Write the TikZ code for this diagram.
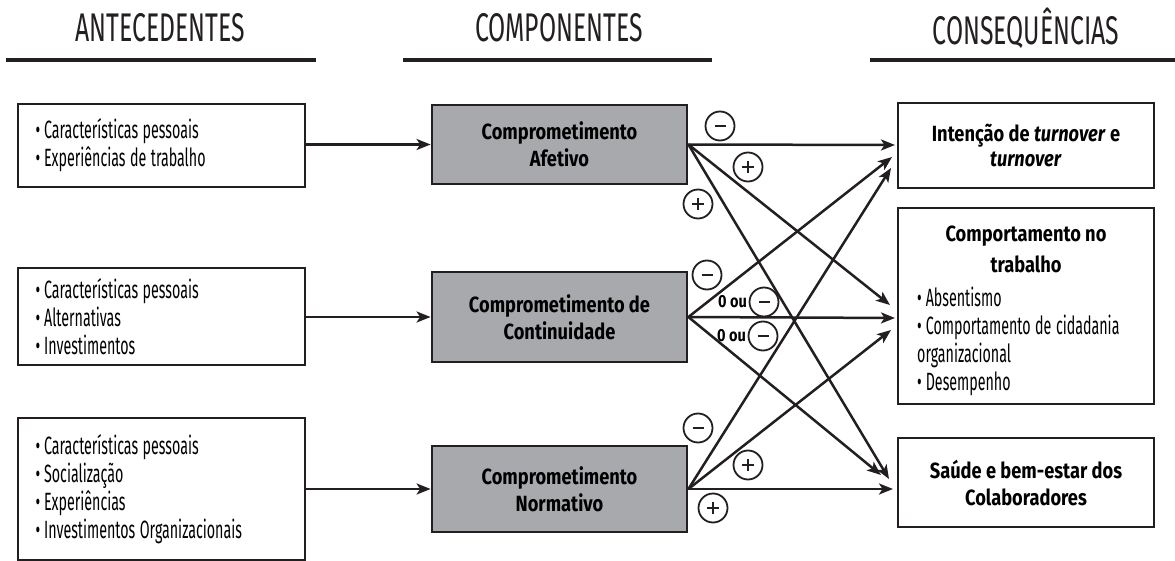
\documentclass[tikz,border=0pt]{standalone}
\usepackage{fontspec}
\setmainfont[FakeStretch=0.57]{Fira Sans}
\newfontfamily\bfont[FakeStretch=0.83]{Fira Sans}
\newfontfamily\headfont[FakeStretch=0.62]{Fira Sans}
\usetikzlibrary{arrows.meta,calc}
\definecolor{boxgray}{HTML}{A7A9AC}
\definecolor{ink}{HTML}{231F20}
\newcommand{\ws}{\hspace{4.5pt}}
\newcommand{\bul}{•\hspace{4pt}}
\newcommand{\regtext}{\fontsize{25}{27.8}\selectfont}
\newcommand{\boldtext}{\bfont\bfseries\fontsize{22}{27}\selectfont}
\tikzset{
  box/.style={draw=ink, line width=2.8pt, inner sep=0pt},
  antbox/.style={box, minimum width=287pt, text width=252pt, align=left, font=\regtext},
  compbox/.style={box, fill=boxgray, minimum width=255pt, align=center, font=\boldtext},
  consbox/.style={box, minimum width=256pt, align=center, font=\boldtext},
  head/.style={font=\headfont\fontsize{40}{44}\selectfont, text=ink, inner sep=0pt},
  rule/.style={line width=4.6pt, ink},
  arr/.style={draw=ink, line width=2.5pt, -{Stealth[length=14pt,width=11pt,inset=3.5pt]}},
  sign/.style={circle, draw=ink, line width=1.8pt, minimum size=29pt, inner sep=0pt},
  signminus/.style={sign, path picture={\draw[ink, line width=1.5pt]
      ($(path picture bounding box.center)+(-5.5pt,0)$) -- ++(11pt,0);}},
  signplus/.style={sign, path picture={\draw[ink, line width=1.5pt]
      ($(path picture bounding box.center)+(-6pt,0)$) -- ++(12pt,0)
      ($(path picture bounding box.center)+(0,-6pt)$) -- ++(0,12pt);}},
  ou/.style={anchor=east, inner sep=1.5pt, font=\bfont\bfseries\fontsize{17.5}{18}\selectfont},
}
\begin{document}
\begin{tikzpicture}[x=1pt,y=-1pt]
\useasboundingbox (0,0) rectangle (1175,561);
% headers
\node[head] (h1) at (160,28) {ANTECEDENTES};
\node[head] (h2) at (559,28) {COMPONENTES};
\node[head] (h3) at (1026,28) {CONSEQUÊNCIAS};
\draw[rule] (6,60) -- (316,60);
\draw[rule] (403,60) -- (712,60);
\draw[rule] (870,60) -- (1175,60);
% antecedents
\node[antbox, minimum height=83pt] (L1) at (161.5,145.5)
  {\bul Características\ws pessoais\\\bul Experiências\ws de\ws trabalho};
\node[antbox, minimum height=97pt] (L2) at (161.5,316.5)
  {\bul Características\ws pessoais\\\bul Alternativas\\\bul Investimentos};
\node[antbox, minimum height=142pt] (L3) at (161.5,489)
  {\bul Características\ws pessoais\\\bul Socialização\\\bul Experiências\\\bul Investimentos\ws Organizacionais};
% components
\node[compbox, minimum height=79pt] (M1) at (559.5,144.5) {Comprometimento\\Afetivo};
\node[compbox, minimum height=90pt] (M2) at (559.5,317) {Comprometimento de\\Continuidade};
\node[compbox, minimum height=86pt] (M3) at (559.5,489) {Comprometimento\\Normativo};
% consequences
\node[consbox, minimum height=85pt, font=\boldtext\fontsize{22}{25}\selectfont] (R1) at (1026,145.5)
  {Intenção de \textit{turnover} e\\\textit{turnover}};
\node[box, minimum width=256pt, minimum height=196pt] (R2) at (1026,306) {};
\node[font=\boldtext\fontsize{22}{31}\selectfont, align=center, inner sep=0pt] (R2t) at (1026,249)
  {Comportamento no\\trabalho};
\node[font=\regtext, align=left, text width=230pt, inner sep=0pt,
  anchor=north west] (R2b) at (917,287)
  {\bul Absentismo\\\bul Comportamento\ws de\ws cidadania\\organizacional\\\bul Desempenho};
\node[consbox, minimum height=89pt] (R3) at (1026,482.5)
  {Saúde e bem-estar dos\\Colaboradores};
% antecedents -> components
\draw[arr] (L1.east |- M1.west) -- (M1.west);
\draw[arr] (L2.east |- M2.west) -- (M2.west);
\draw[arr] (L3.east |- M3.west) -- (M3.west);
% arrow tips
\coordinate (a1) at (895,145);
\coordinate (a2) at (890,305);
\coordinate (a3) at (889,479);
\coordinate (c1) at (892,157);
\coordinate (c2) at (895,318);
\coordinate (c3) at (881,475);
\coordinate (n1) at (891,168);
\coordinate (n2) at (891,330);
\coordinate (n3) at (893,489);
\draw[arr] (M1.east) -- (a1);
\draw[arr] (M1.east) -- (a2);
\draw[arr] (M1.east) -- (a3);
\draw[arr] (M2.east) -- (c1);
\draw[arr] (M2.east) -- (c2);
\draw[arr] (M2.east) -- (c3);
\draw[arr] (M3.east) -- (n1);
\draw[arr] (M3.east) -- (n2);
\draw[arr] (M3.east) -- (n3);
% signs
\node[signminus] (s1) at (720,126) {};
\node[signplus] (s2) at (748,167) {};
\node[signplus] (s3) at (698,204) {};
\node[signminus] (s4) at (707,275) {};
\node[signminus] (s5) at (764,302) {};
\node[ou] (o5) at (s5.west) {0 ou};
\node[signminus] (s6) at (763,336) {};
\node[ou] (o6) at (s6.west) {0 ou};
\node[signminus] (s7) at (698,428) {};
\node[signplus] (s8) at (748,465) {};
\node[signplus] (s9) at (713,508) {};
\end{tikzpicture}
\end{document}
